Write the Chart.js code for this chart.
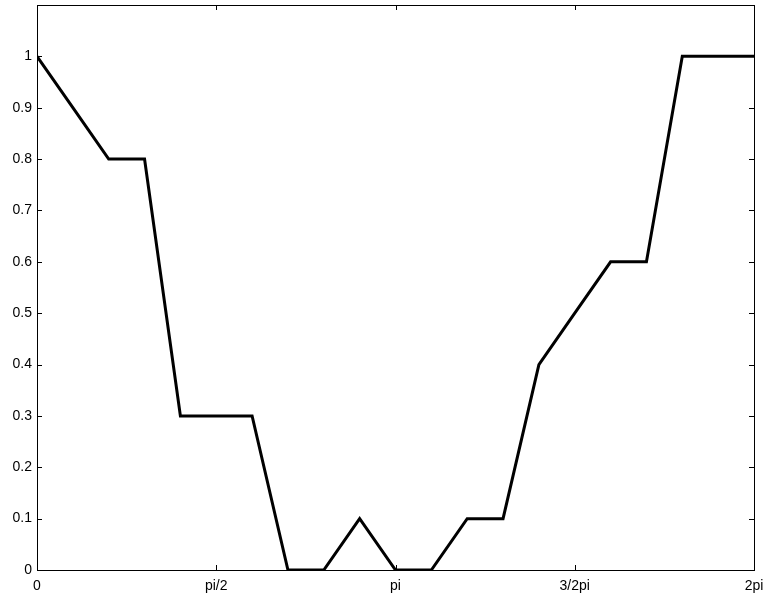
<!DOCTYPE html>
<html>
<head>
<meta charset="utf-8">
<script src="https://cdn.jsdelivr.net/npm/chart.js@4/dist/chart.umd.min.js"></script>
<style>
  html, body { margin: 0; padding: 0; background: #fff; }
  #wrap { width: 766px; height: 596px; }
</style>
</head>
<body>
<div id="wrap"><canvas id="chart" width="766" height="596"></canvas></div>
<script>
//Data (x in steps of pi/10)
const xSteps = [0, 1, 2, 3, 4, 5, 6, 7, 8, 9, 10, 11, 12, 13, 14, 15, 16, 17, 18, 19, 20];
const yValues = [1, 0.9, 0.8, 0.8, 0.3, 0.3, 0.3, 0, 0, 0.1, 0, 0, 0.1, 0.1, 0.4, 0.5, 0.6, 0.6, 1, 1, 1];
const xTickValues = [0, Math.PI / 2, Math.PI, 1.5 * Math.PI, 2 * Math.PI];
const xTickLabels = ["0", "pi/2", "pi", "3/2pi", "2pi"];

const points = xSteps.map((k, i) => ({ x: k * Math.PI / 10, y: yValues[i] }));

//Inward ticks on all four sides plus the box, like a matlab axes
const boxTicks = {
  id: "boxTicks",
  afterDraw(chart) {
    const ctx = chart.ctx;
    const a = chart.chartArea;
    const xs = chart.scales.x;
    const ys = chart.scales.y;
    const len = 5;
    ctx.save();
    ctx.strokeStyle = "#000";
    ctx.lineWidth = 1;
    ctx.beginPath();
    xs.ticks.forEach(t => {
      const px = Math.round(xs.getPixelForValue(t.value)) + 0.5;
      ctx.moveTo(px, a.bottom);
      ctx.lineTo(px, a.bottom - len);
      ctx.moveTo(px, a.top);
      ctx.lineTo(px, a.top + len);
    });
    ys.ticks.forEach(t => {
      const py = Math.round(ys.getPixelForValue(t.value)) + 0.5;
      ctx.moveTo(a.left, py);
      ctx.lineTo(a.left + len, py);
      ctx.moveTo(a.right, py);
      ctx.lineTo(a.right - len, py);
    });
    ctx.stroke();
    ctx.strokeRect(a.left + 0.5, a.top + 0.5, a.right - a.left, a.bottom - a.top);
    ctx.restore();
  }
};

new Chart(document.getElementById("chart").getContext("2d"), {
  type: "line",
  data: {
    datasets: [
      {
        data: points,
        borderColor: "#000",
        borderWidth: 3,
        pointRadius: 0,
        tension: 0,
        fill: false,
      },
    ],
  },
  options: {
    responsive: false,
    animation: false,
    layout: { padding: { left: 0, right: 12, top: 5, bottom: 0 } },
    plugins: { legend: { display: false }, tooltip: { enabled: false } },
    scales: {
      x: {
        type: "linear",
        min: 0,
        max: 2 * Math.PI,
        afterBuildTicks: (scale) => {
          scale.ticks = xTickValues.map(v => ({ value: v }));
        },
        afterFit: (scale) => {
          scale.height = 26;
          scale.paddingLeft = 0;
          scale.paddingRight = 0;
        },
        ticks: {
          autoSkip: false,
          maxRotation: 0,
          color: "#000",
          padding: 8,
          font: { family: "Liberation Sans", size: 14 },
          callback: (v, i) => xTickLabels[i],
        },
        grid: { display: false, drawTicks: false },
        border: { display: false },
      },
      y: {
        min: 0,
        max: 1.1,
        afterBuildTicks: (scale) => {
          scale.ticks = scale.ticks.filter(t => t.value <= 1.0001);
        },
        afterFit: (scale) => {
          scale.width = 37;
          scale.paddingTop = 0;
          scale.paddingBottom = 0;
        },
        ticks: {
          stepSize: 0.1,
          color: "#000",
          padding: 5,
          font: { family: "Liberation Sans", size: 14 },
          callback: (v) => String(Math.round(v * 10) / 10),
        },
        grid: { display: false, drawTicks: false },
        border: { display: false },
      },
    },
  },
  plugins: [boxTicks],
});
</script>
</body>
</html>
